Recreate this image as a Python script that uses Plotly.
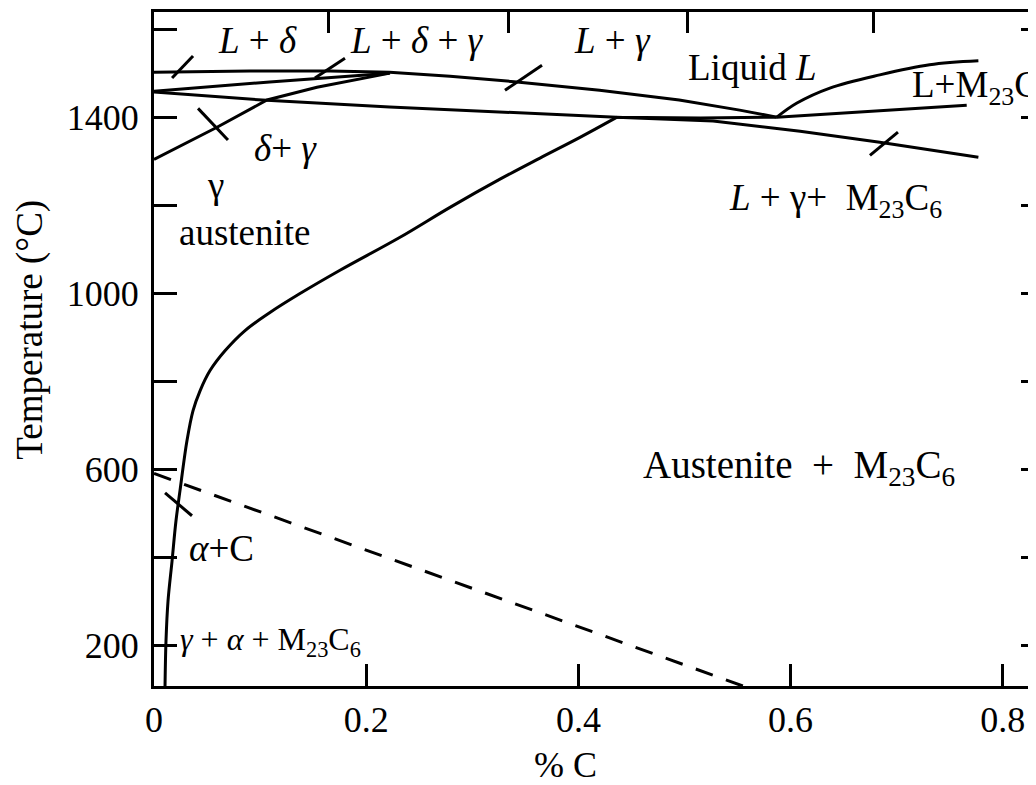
import plotly.graph_objects as go

# phase boundaries, % C vs temperature (deg C)
liquidus_x = [0, 0.0905, 0.166, 0.222, 0.279, 0.342, 0.420, 0.495, 0.552, 0.587]
liquidus_t = [1502, 1505, 1505, 1502, 1493, 1480, 1461, 1439, 1416, 1400]

carbide_liq_x = [0.587, 0.606, 0.637, 0.684, 0.731, 0.777]
carbide_liq_t = [1400, 1432, 1466, 1496, 1519, 1528]

carbide_sol_x = [0.587, 0.675, 0.766]
carbide_sol_t = [1400, 1414, 1427]

delta_sol_x = [0, 0.109, 0.222]
delta_sol_t = [1459, 1480, 1500]

solidus_x = [0, 0.102, 0.222, 0.326, 0.436, 0.515, 0.587]
solidus_t = [1457, 1439, 1423, 1411, 1400, 1398, 1400]

three_phase_x = [0.436, 0.527, 0.609, 0.684, 0.777]
three_phase_t = [1400, 1391, 1368, 1343, 1309]

delta_gamma_x = [0, 0.0594, 0.1065, 0.1536, 0.2224]
delta_gamma_t = [1304, 1377, 1439, 1468, 1500]

acm_x = [0.0104, 0.0113, 0.0132, 0.0170, 0.0207, 0.0245, 0.0311, 0.0368, 0.0434,
         0.0528, 0.0669, 0.0858, 0.1093, 0.1376, 0.1753, 0.2319, 0.2790, 0.3261,
         0.3638, 0.4015, 0.4364]
acm_t = [107, 209, 300, 391, 482, 551, 665, 733, 778, 824, 869, 915, 956, 999,
         1052, 1127, 1195, 1259, 1307, 1354, 1400]

eutectoid_x = [0, 0.555]
eutectoid_t = [590, 107]

# little leader strokes that point a label into its field
leader_x = [(0.0170, 0.0368), (0.1517, 0.180), (0.3308, 0.3657),
            (0.0415, 0.0697), (0.6748, 0.7012), (0.0104, 0.0358)]
leader_t = [(1489, 1539), (1489, 1534), (1461, 1518),
            (1420, 1348), (1313, 1366), (546, 494)]

x_ticks = [0, 0.2, 0.4, 0.6, 0.8]
x_tick_text = ["0", "0.2", "0.4", "0.6", "0.8"]
top_ticks = [0.164, 0.334, 0.503, 0.678]
t_ticks = [200, 400, 600, 800, 1000, 1200, 1400, 1600]
t_tick_text = ["200", "", "600", "", "1000", "", "1400", ""]

X_RANGE = [0, 0.8313]
T_RANGE = [107, 1639]
FONT = "Liberation Serif"
LW = 3

fig = go.Figure()


def boundary(x, y, shape="linear", dash=None):
    fig.add_trace(go.Scatter(
        x=x, y=y, mode="lines", showlegend=False, hoverinfo="skip",
        line=dict(color="black", width=LW, shape=shape, dash=dash),
    ))


boundary(liquidus_x, liquidus_t)
boundary(carbide_liq_x, carbide_liq_t, "spline")
boundary(carbide_sol_x, carbide_sol_t)
boundary(delta_sol_x, delta_sol_t)
boundary(solidus_x, solidus_t)
boundary(three_phase_x, three_phase_t)
boundary(delta_gamma_x, delta_gamma_t)
boundary(acm_x, acm_t, "spline")
boundary(eutectoid_x, eutectoid_t, dash="18px,14px")

lx, lt = [], []
for (x0, x1), (t0, t1) in zip(leader_x, leader_t):
    lx += [x0, x1, None]
    lt += [t0, t1, None]
boundary(lx, lt)

# empty trace so the top / right tick axes exist
fig.add_trace(go.Scatter(x=[], y=[], xaxis="x2", yaxis="y2", showlegend=False))

labels = [
    (0.098, 1575, "<i>L</i> + <i>δ</i>", "center", 37),
    (0.248, 1575, "<i>L</i> + <i>δ</i> + <i>γ</i>", "center", 37),
    (0.432, 1575, "<i>L</i> + <i>γ</i>", "center", 37),
    (0.564, 1512, "Liquid <i>L</i>", "center", 37),
    (0.7125, 1468, "L+M<sub>23</sub>C<sub>6</sub>", "left", 37),
    (0.642, 1211, "<i>L</i> + γ+  M<sub>23</sub>C<sub>6</sub>", "center", 37),
    (0.124, 1329, "<i>δ</i>+ <i>γ</i>", "center", 37),
    (0.0575, 1245, "γ", "center", 37),
    (0.0858, 1138, "austenite", "center", 37),
    (0.608, 603, "Austenite  +  M<sub>23</sub>C<sub>6</sub>", "center", 39),
    (0.064, 419, "<i>α</i>+C", "center", 37),
    (0.110, 209, "<i>γ</i> + <i>α</i> + M<sub>23</sub>C<sub>6</sub>", "center", 32),
]
for x, y, text, anchor, size in labels:
    fig.add_annotation(x=x, y=y, text=text, showarrow=False, xanchor=anchor,
                       yanchor="middle", font=dict(family=FONT, size=size, color="black"))

# axis titles placed as in the original (not centred on the frame)
fig.add_annotation(x=0.466, y=-0.117, xref="paper", yref="paper", text="% C",
                   showarrow=False, xanchor="center", yanchor="middle",
                   font=dict(family=FONT, size=36, color="black"))
fig.add_annotation(x=-0.140, y=0.528, xref="paper", yref="paper",
                   text="Temperature (°C)", textangle=-90, showarrow=False,
                   xanchor="center", yanchor="middle",
                   font=dict(family=FONT, size=37, color="black"))

axis_common = dict(showgrid=False, zeroline=False, color="black", automargin=False,
                   tickfont=dict(family=FONT, size=36, color="black"))

# the page body adds 8px on the top and left, so the figure is 8px smaller
fig.update_layout(
    width=1028, height=777,
    margin=dict(l=146, r=0, t=4, b=99, autoexpand=False),
    paper_bgcolor="white", plot_bgcolor="white",
    font=dict(family=FONT, color="black"),
    xaxis=dict(
        range=X_RANGE, showline=True, linewidth=LW, linecolor="black",
        ticks="inside", ticklen=22, tickwidth=2.5, tickcolor="black",
        tickvals=x_ticks, ticktext=x_tick_text, ticklabelstandoff=0,
        **axis_common,
    ),
    xaxis2=dict(
        range=X_RANGE, overlaying="x", side="top", showline=True, linewidth=LW,
        linecolor="black", ticks="inside", ticklen=21, tickwidth=2.5,
        tickcolor="black", tickvals=top_ticks, showticklabels=False,
        showgrid=False, zeroline=False, automargin=False,
    ),
    yaxis=dict(
        range=T_RANGE, showline=True, linewidth=LW, linecolor="black",
        ticks="inside", ticklen=23, tickwidth=2.5, tickcolor="black",
        tickvals=t_ticks, ticktext=t_tick_text, ticklabelstandoff=5,
        **axis_common,
    ),
    yaxis2=dict(
        range=T_RANGE, overlaying="y", side="right", showline=False,
        ticks="inside", ticklen=15, tickwidth=2.5, tickcolor="black",
        tickvals=t_ticks, showticklabels=False, showgrid=False, zeroline=False,
        automargin=False,
    ),
)

fig.write_html("out.html")
